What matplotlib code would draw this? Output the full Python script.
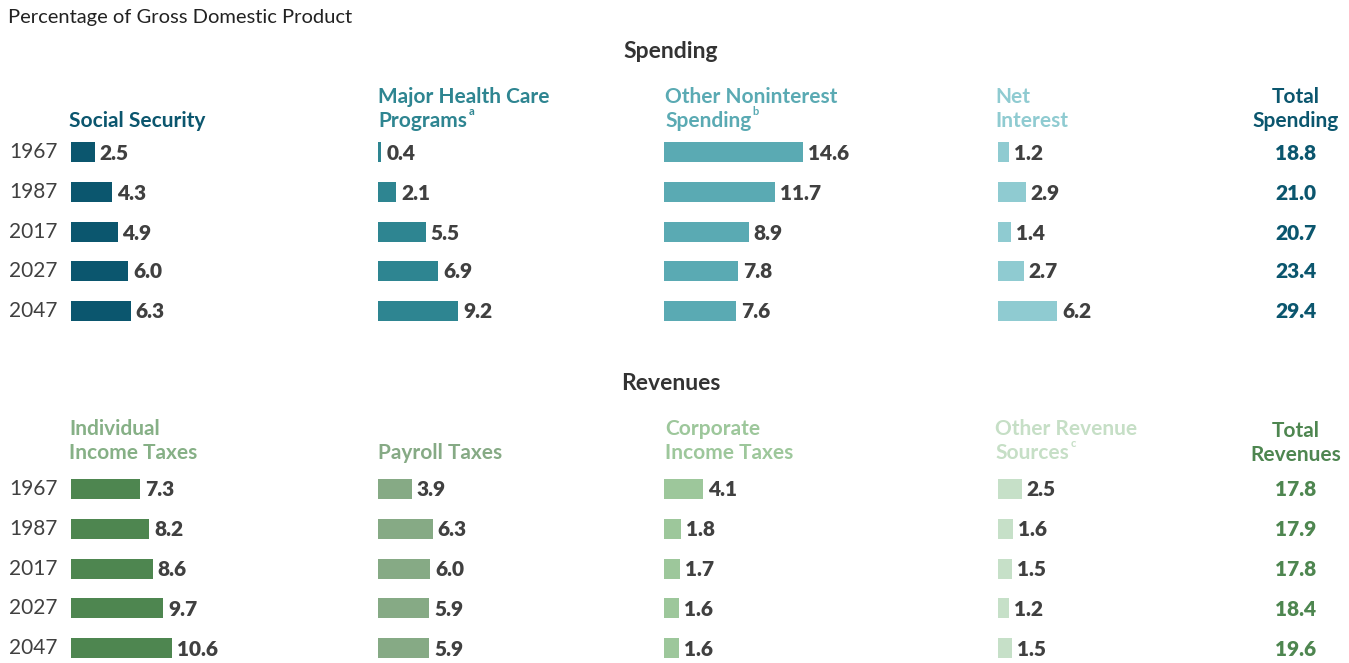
import matplotlib.pyplot as plt

plt.rcParams['font.family'] = ['Lato', 'DejaVu Sans']

years = ['1967', '1987', '2017', '2027', '2047']

# spending, % of GDP
social_security = [2.5, 4.3, 4.9, 6.0, 6.3]
health_care = [0.4, 2.1, 5.5, 6.9, 9.2]
other_nonint = [14.6, 11.7, 8.9, 7.8, 7.6]
net_interest = [1.2, 2.9, 1.4, 2.7, 6.2]
total_spending = [18.8, 21.0, 20.7, 23.4, 29.4]

# revenues, % of GDP
indiv_income = [7.3, 8.2, 8.6, 9.7, 10.6]
payroll = [3.9, 6.3, 6.0, 5.9, 5.9]
corporate = [4.1, 1.8, 1.7, 1.6, 1.6]
other_rev = [2.5, 1.6, 1.5, 1.2, 1.5]
total_revenues = [17.8, 17.9, 17.8, 18.4, 19.6]

W, H = 1349, 663
fig = plt.figure(figsize=(W / 100, H / 100), dpi=100)
ax = fig.add_axes([0, 0, 1, 1])
ax.set_xlim(0, W)
ax.set_ylim(H, 0)
ax.axis('off')

COLS = [71, 378, 664, 998]
SCALES = [9.5, 8.7, 9.5, 9.5]   # pixels per percentage point, per column
TOTAL_X = 1296
DARK = '#404040'


def header(x, lines, y_last, color, sup=None, ha='left'):
    t = None
    for i, line in enumerate(lines):
        y = y_last - 24 * (len(lines) - 1 - i)
        t = ax.text(x, y, line, ha=ha, va='baseline', fontsize=15,
                    fontweight='bold', color=color)
    if sup:
        ax.annotate(sup, xy=(1, 1), xycoords=t, xytext=(1, -4),
                    textcoords='offset points', ha='left', va='bottom',
                    fontsize=8, fontweight='bold', color=color)


def block(rows_y, series, colors, total, total_color):
    for i, yr in enumerate(years):
        ax.text(58, rows_y[i], yr, ha='right', va='center', fontsize=15,
                color=DARK)
    for x0, px, vals, c in zip(COLS, SCALES, series, colors):
        ax.barh(rows_y, [v * px for v in vals], left=x0, height=20, color=c)
        for y, v in zip(rows_y, vals):
            ax.text(x0 + v * px + 5, y + 1, f'{v:.1f}', ha='left', va='center',
                    fontsize=15, fontweight='heavy', color=DARK)
    for y, v in zip(rows_y, total):
        ax.text(TOTAL_X, y + 1, f'{v:.1f}', ha='center', va='center',
                fontsize=15, fontweight='heavy', color=total_color)


ax.text(8, 18, 'Percentage of Gross Domestic Product', ha='left', va='center',
        fontsize=14.5, color='#222222')

# spending
sp_colors = ['#0b566e', '#2e8591', '#5aaab3', '#8fcbd1']
ax.text(671, 52, 'Spending', ha='center', va='center', fontsize=16.5,
        fontweight='bold', color='#333333')
header(69, ['Social Security'], 127, sp_colors[0])
header(378, ['Major Health Care', 'Programs'], 127, sp_colors[1], 'a')
header(665, ['Other Noninterest', 'Spending'], 127, sp_colors[2], 'b')
header(995, ['Net', 'Interest'], 127, sp_colors[3])
header(TOTAL_X, ['Total', 'Spending'], 127, sp_colors[0], ha='center')
block([152, 192, 232, 271, 311],
      [social_security, health_care, other_nonint, net_interest],
      sp_colors, total_spending, sp_colors[0])

# revenues
rv_colors = ['#4e8650', '#86aa85', '#9dc79b', '#c6e0c8']
ax.text(671, 383, 'Revenues', ha='center', va='center', fontsize=16.5,
        fontweight='bold', color='#333333')
header(69, ['Individual', 'Income Taxes'], 459, '#86b086')
header(378, ['Payroll Taxes'], 459, '#86aa85')
header(665, ['Corporate', 'Income Taxes'], 459, '#9dc79b')
header(995, ['Other Revenue', 'Sources'], 459, '#c6dfc6', 'c')
header(TOTAL_X, ['Total', 'Revenues'], 461, rv_colors[0], ha='center')
block([489, 529, 569, 608, 648],
      [indiv_income, payroll, corporate, other_rev],
      rv_colors, total_revenues, rv_colors[0])

fig.savefig('out.png', dpi=100)
